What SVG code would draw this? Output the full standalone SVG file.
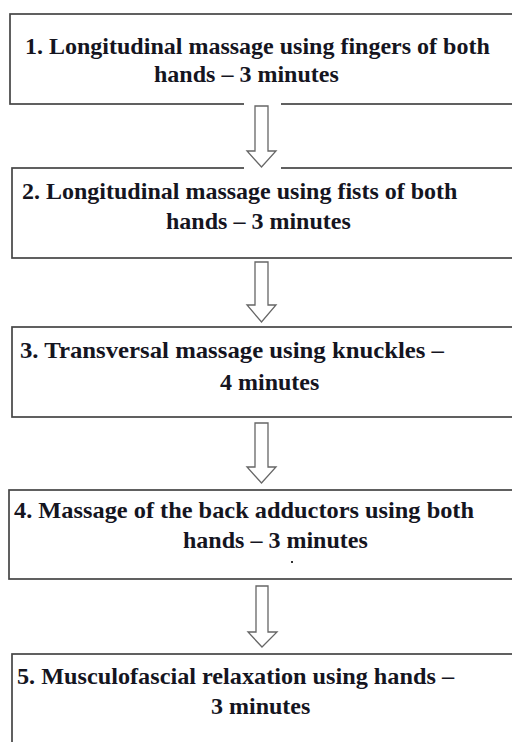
<svg xmlns="http://www.w3.org/2000/svg" width="512" height="742" viewBox="0 0 512 742">
<style>
.box{fill:#fff;stroke:#454545;stroke-width:1.7}
.arr{fill:#fff;stroke:#666;stroke-width:1.3;stroke-linejoin:miter}
</style>
<rect width="512" height="742" fill="#fff"/>
<g id="node1">
<rect class="box" x="10" y="14" width="520" height="90"/>
<text font-family="Liberation Serif" font-size="24" font-weight="bold" fill="#15151f" x="25" y="54">1. Longitudinal massage using fingers of both</text>
<text font-family="Liberation Serif" font-size="24" font-weight="bold" fill="#15151f" x="154" y="82">hands – 3 minutes</text>
</g>
<g id="node2">
<rect class="box" x="12" y="168" width="520" height="90"/>
<text font-family="Liberation Serif" font-size="24" font-weight="bold" fill="#15151f" x="22" y="199">2. Longitudinal massage using fists of both</text>
<text font-family="Liberation Serif" font-size="24" font-weight="bold" fill="#15151f" x="166" y="229">hands – 3 minutes</text>
</g>
<g id="node3">
<rect class="box" x="12" y="327" width="520" height="90"/>
<text font-family="Liberation Serif" font-size="24" font-weight="bold" fill="#15151f" x="20" y="358" textLength="424" lengthAdjust="spacingAndGlyphs">3. Transversal massage using knuckles –</text>
<text font-family="Liberation Serif" font-size="24" font-weight="bold" fill="#15151f" x="220" y="390">4 minutes</text>
</g>
<g id="node4">
<rect class="box" x="9" y="490" width="520" height="89"/>
<text font-family="Liberation Serif" font-size="24" font-weight="bold" fill="#15151f" x="14" y="518" textLength="460" lengthAdjust="spacingAndGlyphs">4. Massage of the back adductors using both</text>
<text font-family="Liberation Serif" font-size="24" font-weight="bold" fill="#15151f" x="183" y="548">hands – 3 minutes</text>
<rect x="291" y="561" width="2" height="2" fill="#333"/>
</g>
<g id="node5">
<rect class="box" x="12" y="654" width="520" height="100"/>
<text font-family="Liberation Serif" font-size="24" font-weight="bold" fill="#15151f" x="17" y="684" textLength="437" lengthAdjust="spacingAndGlyphs">5. Musculofascial relaxation using hands –</text>
<text font-family="Liberation Serif" font-size="24" font-weight="bold" fill="#15151f" x="211" y="714">3 minutes</text>
</g>
<g id="connectors">
<rect x="244" y="102" width="37" height="68" fill="#fff"/>
<path class="arr" d="M255 106 H268 V151 H276 L261.5 167 L247 151 H255 Z"/>
<path class="arr" d="M255 262 H268 V305 H276 L261.5 322 L247 305 H255 Z"/>
<path class="arr" d="M255 423 H268 V467 H276 L261.5 483 L247 467 H255 Z"/>
<path class="arr" d="M256 586 H268 V632 H277 L262 647 L248 632 H256 Z"/>
</g>
</svg>
